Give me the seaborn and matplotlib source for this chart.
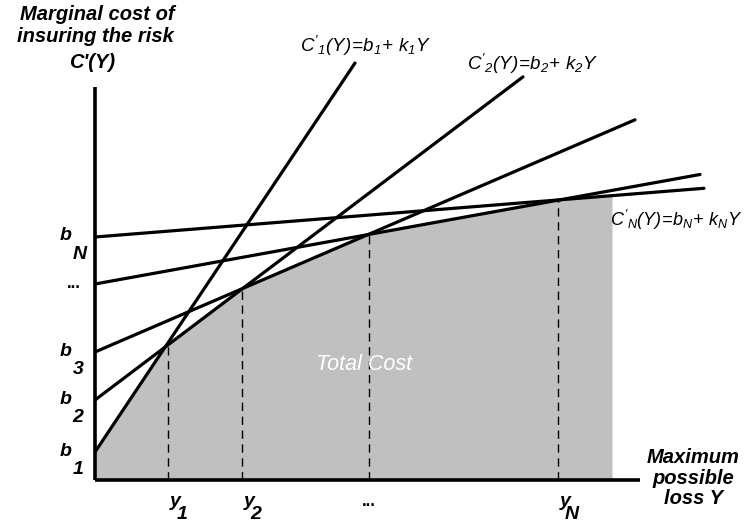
import numpy as np
import pandas as pd
import matplotlib.pyplot as plt
import seaborn as sns

# ----------------------------------------------------------------------------------------------
# Data (x and y in the diagram's own units)
# ----------------------------------------------------------------------------------------------
line_names = ["1", "2", "3", "dots", "N"]
intercepts = [0.28, 0.80, 1.28, 1.96, 2.43]       # b_1, b_2, b_3, ..., b_N
slopes = [1.496, 0.755, 0.43, 0.181, 0.08]        # k_1, k_2, k_3, ..., k_N
line_ends = [2.60, 4.28, 5.40, 6.05, 6.09]        # where each drawn line stops
tangent_points = [0.73, 1.47, 2.74, 4.63]         # y_1, y_2, ..., y_N
tangent_subs = ["1", "2", "", "N"]
b_subs = ["1", "2", "3", "", "N"]
fill_end = 5.17
x_axis_len = 5.45
y_axis_len = 3.93

sns.set_style("white")
plt.rcParams["font.family"] = ["Liberation Sans", "DejaVu Sans"]
plt.rcParams["text.color"] = "black"
plt.rcParams["mathtext.fontset"] = "custom"
plt.rcParams["mathtext.rm"] = "Liberation Sans:italic"
plt.rcParams["mathtext.it"] = "Liberation Sans:italic"
plt.rcParams["mathtext.bf"] = "Liberation Sans:bold:italic"

fig = plt.figure(figsize=(7.45, 5.27), dpi=100)
ax = fig.add_axes([0, 0, 1, 1])
ax.set_xlim(-0.95, 6.50)
ax.set_ylim(-0.47, 4.80)
ax.axis("off")

lab_style = dict(fontsize=14, fontweight="bold", fontstyle="italic")

# total cost area = lower envelope of the tangent lines
xs = np.linspace(0, fill_end, 600)
envelope = np.min([b + k * xs for b, k in zip(intercepts, slopes)], axis=0)
ax.fill_between(xs, 0, envelope, color="#c0c0c0", lw=0, zorder=1)

# the straight lines C'_i(Y) = b_i + k_i Y
rows = []
for name, b, k, end in zip(line_names, intercepts, slopes, line_ends):
    for x in (0, end):
        rows.append({"line": name, "x": x, "y": b + k * x})
lines_df = pd.DataFrame(rows)
sns.lineplot(data=lines_df, x="x", y="y", units="line", estimator=None,
             color="black", lw=2.3, ax=ax, zorder=3)

# dashed drops from the tangent points, with y_i labels under the axis
for xp, sub in zip(tangent_points, tangent_subs):
    top = min(b + k * xp for b, k in zip(intercepts, slopes))
    ax.plot([xp, xp], [0, top], color="black", lw=1, dashes=(6, 4), zorder=2)
    if sub == "":
        ax.text(xp, -0.22, "...", ha="center", va="center", fontsize=12, fontweight="bold")
        continue
    ax.annotate("y", xy=(xp, -0.21), xytext=(5, 0), textcoords="offset points",
                ha="center", va="center", **lab_style)
    ax.annotate(sub, xy=(xp, -0.21), xytext=(10, -10), textcoords="offset points",
                ha="center", va="center", **lab_style)

# axes
ax.plot([0, 0], [0, y_axis_len], color="black", lw=2.6, zorder=4, solid_capstyle="butt")
ax.plot([0, x_axis_len], [0, 0], color="black", lw=2.6, zorder=4, solid_capstyle="butt")

# b_i labels on the vertical axis
for b, sub in zip(intercepts, b_subs):
    if sub == "":
        ax.text(-0.14, b, "...", ha="right", va="center", fontsize=12, fontweight="bold")
        continue
    ax.annotate("b", xy=(-0.23, b + 0.01), xytext=(0, 0), textcoords="offset points",
                ha="right", va="center", **lab_style)
    ax.annotate(sub, xy=(-0.23, b + 0.01), xytext=(0.5, -13), textcoords="offset points",
                ha="left", va="center", **lab_style)

# axis titles
title_style = dict(fontsize=14.5, fontweight="bold", fontstyle="italic")
ax.text(0.02, 4.65, "Marginal cost of", ha="center", va="center", **title_style)
ax.text(0.00, 4.43, "insuring the risk", ha="center", va="center", **title_style)
ax.text(-0.03, 4.17, "C'(Y)", ha="center", va="center", **title_style)
ax.text(5.98, 0.02, "Maximum\npossible\nloss Y", ha="center", va="center",
        linespacing=1.1, **title_style)

# equations
ax.text(2.70, 4.34, r"$C'_1(Y)\!=\!b_1\!+\,k_1Y$", ha="center", va="center", fontsize=13.5)
ax.text(4.37, 4.16, r"$C'_2(Y)\!=\!b_2\!+\,k_2Y$", ha="center", va="center", fontsize=13.5)
ax.text(5.15, 2.60, r"$C'_N(Y)\!=\!b_N\!+\,k_NY$", ha="left", va="center", fontsize=13)

ax.text(2.69, 1.15, "Total Cost", ha="center", va="center", fontsize=15.5,
        fontstyle="italic", color="white")

plt.savefig("out.png", dpi=100)
plt.close()
